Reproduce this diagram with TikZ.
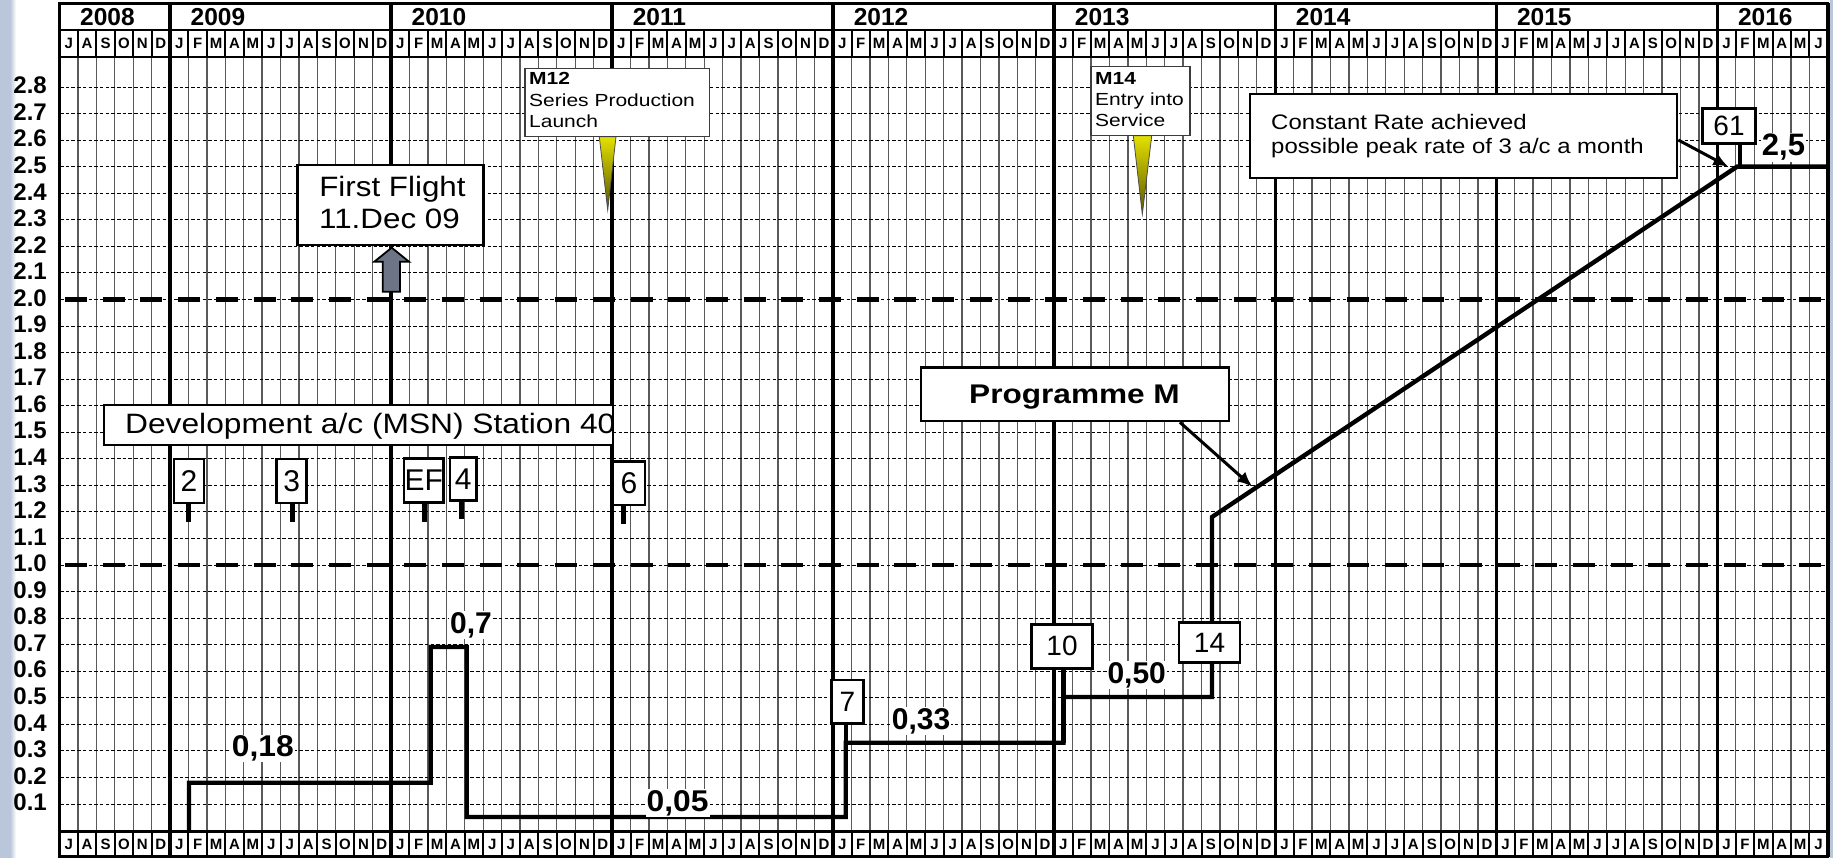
\documentclass[tikz,border=0pt]{standalone}
\usepackage{fontspec}
\setmainfont{Liberation Sans}
\usepackage{graphicx}
\usetikzlibrary{arrows.meta,calc}
\definecolor{bandblue}{RGB}{186,198,217}
\definecolor{gridgray}{RGB}{90,90,90}
\definecolor{arrowgray}{RGB}{108,116,134}
\definecolor{wedgetop}{RGB}{228,224,0}
\definecolor{wedgebot}{RGB}{88,86,0}
\definecolor{calloutframe}{RGB}{60,60,60}
\newcommand\mlet[1]{\ifcase#1 J\or F\or M\or A\or M\or J\or J\or A\or S\or O\or N\or D\fi}
\newcommand\fsz[2]{\fontsize{#1pt}{#2pt}\selectfont}
\newcommand\hs[2]{\scalebox{#1}[1]{#2}}
\begin{document}
\begin{tikzpicture}[x=1pt,y=-1pt,
  mgrid/.style={gridgray,line width=1.3pt},
  hgrid/.style={black,line width=0.9pt,dash pattern=on 3.5pt off 2.2pt},
  ygrid/.style={black,line width=3.4pt},
  msep/.style={black,line width=2pt},
  hdrframe/.style={black,line width=2.5pt},
  thickdash/.style={black,line width=4.6pt,dash pattern=on 22pt off 15.7pt},
  rate/.style={black,line width=4.4pt,line join=miter},
  stem/.style={black,line width=5pt},
  ptr/.style={black,line width=3pt,-{Latex[length=15pt,width=13pt]}},
  numbox/.style={draw=black,line width=2.5pt,fill=white,inner sep=0pt},
  bigbox/.style={draw=black,line width=2.5pt,fill=white,inner sep=0pt},
  callout/.style={draw=calloutframe,line width=1.5pt,fill=white,inner sep=0pt},
  val/.style={font=\bfseries\fsz{30}{32},fill=white,inner sep=1pt,anchor=base west},
  mon/.style={font=\bfseries\fsz{15}{17},inner sep=0pt},
  yrlab/.style={font=\bfseries\fsz{24.5}{26},anchor=base west,inner sep=0pt},
  ylab/.style={font=\bfseries\fsz{24}{26},anchor=east,inner sep=0pt},
  txt/.style={anchor=base west,inner sep=0pt},
  ctxt/.style={anchor=base,inner sep=0pt},
  wedge/.style={top color=wedgetop,bottom color=wedgebot,draw=black!70,line width=0.8pt},
]
\useasboundingbox (0,0) rectangle (1833,858);
\fill[white] (0,0) rectangle (1833,858);
\fill[bandblue] (0,0) rectangle (10,858);
\shade[left color=bandblue,right color=white] (10,0) rectangle (16,858);
\fill[bandblue] (1829.5,0) rectangle (1833,858);

% body grid
\foreach \m in {1,...,95} \draw[mgrid] ({59.5+18.42*\m},57) -- ({59.5+18.42*\m},832);
\foreach \v in {1,...,28} \draw[hgrid] (60,{830.5-26.55*\v}) -- (1828,{830.5-26.55*\v});

% header and footer
\draw[hdrframe] (59.5,3.5) rectangle (1827.8,57);
\draw[hdrframe] (59.5,30) -- (1827.8,30);
\draw[hdrframe] (59.5,831.5) rectangle (1827.8,856.5);
\foreach \m in {1,...,95} {
  \draw[msep] ({59.5+18.42*\m},30) -- ({59.5+18.42*\m},57);
  \draw[msep] ({59.5+18.42*\m},831.5) -- ({59.5+18.42*\m},856.5);
}
\foreach \m in {6,18,...,90} \draw[ygrid] ({59.5+18.42*\m},3.5) -- ({59.5+18.42*\m},856.5);
\draw[ygrid] (59.5,3.5) -- (59.5,856.5);
\draw[ygrid] (1827.8,3.5) -- (1827.8,856.5);

\foreach \m in {0,...,95} {
  \pgfmathtruncatemacro\mk{mod(\m+6,12)}
  \node[mon] (mt\m) at ({59.5+18.42*(\m+0.5)},43.5) {\mlet{\mk}};
  \node[mon] (mb\m) at ({59.5+18.42*(\m+0.5)},844) {\mlet{\mk}};
}
\foreach \yr/\xx in {2008/80,2009/190.5,2010/411.5,2011/632.6,2012/853.6,2013/1074.7,2014/1295.7,2015/1516.8,2016/1737.8}
  \node[yrlab] (yr\yr) at (\xx,25.5) {\yr};

\foreach \v in {1,...,28} {
  \pgfmathtruncatemacro\ya{\v/10}
  \pgfmathtruncatemacro\yb{mod(\v,10)}
  \node[ylab] (yl\v) at (47,{829-26.55*\v}) {\ya.\yb};
}

% thick dashed levels
\draw[thickdash] (65,565) -- (1827,565);
\draw[thickdash] (65,299.5) -- (1827,299.5);

% rate line
\draw[rate] (189,831) |- (430.7,782.7) |- (466.7,647) |- (845.7,817) |- (1063.3,742.7) |- (1212,697) -- (1212,517) -- (1737,166.7) -- (1827,166.7);

% production boxes
\node[numbox,font=\fsz{28}{30},minimum width=31.6pt,minimum height=43.3pt] (b7) at (847.5,701.7) {7};
\draw[rate] (845.7,742.7) -- (845.7,0 |- b7.south);
\node[numbox,font=\fsz{28}{30},minimum width=60.6pt,minimum height=44pt] (b10) at (1062,646.3) {10};
\draw[rate] (1063.3,742.7) -- (1063.3,0 |- b10.south);
\node[numbox,font=\fsz{28}{30},minimum width=61pt,minimum height=40.4pt] (b14) at (1209.5,642.5) {14};
\node[numbox,font=\fsz{28}{30},minimum width=53.4pt,minimum height=35pt] (b61) at (1729,125.8) {61};
\draw[rate] (1740,166.7) -- (1740,0 |- b61.south);

% development boxes
\node[numbox,font=\fsz{30}{32},minimum width=30pt,minimum height=43.7pt] (b2) at (189,481) {2};
\draw[stem] (188.3,0 |- b2.south) -- ++(0,18);
\node[numbox,font=\fsz{30}{32},minimum width=30pt,minimum height=43.7pt] (b3) at (291.7,481) {3};
\draw[stem] (292.7,0 |- b3.south) -- ++(0,18);
\node[numbox,font=\fsz{30}{32},minimum width=39.3pt,minimum height=44pt] (bEF) at (423.7,480.3) {EF};
\draw[stem] (424,0 |- bEF.south) -- ++(0,18);
\node[numbox,font=\fsz{30}{32},minimum width=26.7pt,minimum height=43pt] (b4) at (463.3,479.2) {4};
\draw[stem] (461.7,0 |- b4.south) -- ++(0,17.5);
\node[numbox,font=\fsz{30}{32},minimum width=32pt,minimum height=43.3pt] (b6) at (629,483.3) {6};
\draw[stem] (623.3,0 |- b6.south) -- ++(0,18);

\node[bigbox,minimum width=509pt,minimum height=40pt] (dev) at (358.5,425) {};
\node[txt,font=\fsz{28}{30}] (devt) at (125,433.3) {\hs{1.133}{Development a/c (MSN) Station 40}};

% first flight
\node[bigbox,minimum width=185.6pt,minimum height=80pt] (ff) at (390.5,205) {};
\node[ctxt,font=\fsz{28}{30}] (ff1) at (392.5,196.7) {\hs{1.12}{First Flight}};
\node[ctxt,font=\fsz{28}{30}] (ff2) at (389.5,228.3) {\hs{1.12}{11.Dec 09}};
\draw[fill=arrowgray,line width=1.8pt,line join=miter] (391.7,247.7) -- (409,261.7) -- (400,261.7) -- (400,291.7) -- (382.7,291.7) -- (382.7,261.7) -- (374.3,261.7) -- cycle;

% milestones
\shade[wedge] (599.3,136.7) -- (616,136.7) -- (607.7,210) -- cycle;
\node[callout,minimum width=184.3pt,minimum height=68.4pt] (m12) at (617.15,102.5) {};
\node[txt,font=\bfseries\fsz{17.5}{21}] (m12a) at (529,85) {\hs{1.2}{M12}};
\node[txt,font=\fsz{17.5}{21}] (m12b) at (529,106.7) {\hs{1.2}{Series Production}};
\node[txt,font=\fsz{17.5}{21}] (m12c) at (529,127.7) {\hs{1.2}{Launch}};

\shade[wedge] (1133.3,135.7) -- (1151.7,135.7) -- (1142.3,214.3) -- cycle;
\node[callout,minimum width=99pt,minimum height=69pt] (m14) at (1140.5,101.2) {};
\node[txt,font=\bfseries\fsz{17.5}{21}] (m14a) at (1095,85) {\hs{1.2}{M14}};
\node[txt,font=\fsz{17.5}{21}] (m14b) at (1095,106) {\hs{1.2}{Entry into}};
\node[txt,font=\fsz{17.5}{21}] (m14c) at (1095,126.7) {\hs{1.2}{Service}};

% programme M
\node[bigbox,minimum width=308pt,minimum height=53.7pt] (pm) at (1075,394.2) {};
\node[ctxt,font=\bfseries\fsz{27}{29}] (pmt) at (1074.5,403.5) {\hs{1.17}{Programme M}};
\coordinate (pmtip) at (1252.3,486.7);
\draw[ptr] (pm.-15.25) -- (pmtip);

% constant rate
\node[bigbox,minimum width=427pt,minimum height=84pt] (cr) at (1463.5,136) {};
\node[txt,font=\fsz{21}{23}] (cr1) at (1271,130) {\hs{1.14}{Constant Rate achieved}};
\node[txt,font=\fsz{21}{23}] (cr2) at (1271,153.3) {\hs{1.14}{possible peak rate of 3 a/c a month}};
\coordinate (crtip) at (1728.3,166.7);
\draw[ptr] ($(cr.east)+(0,4)$) -- (crtip);

% values
\node[val] (v18) at (230.7,756.7) {\hs{1.06}{0,18}};
\node[val] (v7) at (449,633.3) {0,7};
\node[val] (v05) at (645.5,811) {\hs{1.06}{0,05}};
\node[val] (v33) at (890.7,729.3) {0,33};
\node[val] (v50) at (1106.3,683.3) {0,50};
\node[val,font=\bfseries\fsz{31}{33}] (v25) at (1760.7,156) {2,5};
\end{tikzpicture}
\end{document}
